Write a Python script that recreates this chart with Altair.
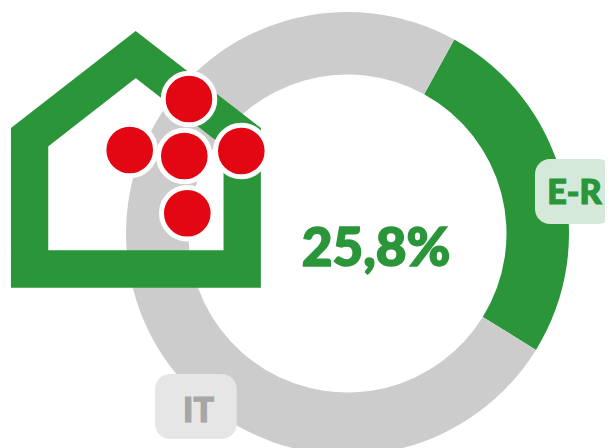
import altair as alt
import pandas as pd

# Donut
ring_labels = ["E-R", "IT"]
ring_values = [25.8, 74.2]
ring_colors = ["#2a9639", "#cccccc"]

# House outline (centre line of the thick stroke)
house_x = [136, 29.6, 29.6, 135.7, 242.2, 242.2, 136]
house_y = [269, 269, 137.2, 54.6, 137.2, 269, 269]

# Red dots
dot_x = [129.7, 189, 187.3, 241.3, 184.3]
dot_y = [150, 99, 213.3, 151, 156]

# Labels
box_names = ["E-R", "IT"]
box_x1 = [535, 155]
box_x2 = [613, 236.7]
box_y1 = [159, 374]
box_y2 = [224, 439]
box_fill = ["#d5e9da", "#e6e6e6"]
box_text = ["#2a9639", "#a6a6a6"]
box_tx = [574.5, 198.5]
box_ty = [203.5, 422]

center_label = ["25,8%"]
center_x = [376]
center_y = [265.5]

FONT = "Lato"
W, H = 597, 440
xs = alt.Scale(domain=[8, 8 + W], range=[0, W])
ys = alt.Scale(domain=[8, 8 + H], range=[0, H])
X = lambda f: alt.X(f, type="quantitative", scale=xs, axis=None)
Y = lambda f: alt.Y(f, type="quantitative", scale=ys, axis=None)

ring_df = pd.DataFrame({"label": ring_labels, "value": ring_values, "color": ring_colors, "k": [0, 1]})
ring = alt.Chart(ring_df).mark_arc(outerRadius=221.5, innerRadius=159, clip=True).encode(
    theta=alt.Theta("value:Q", stack=True, scale=alt.Scale(domain=[0, 100], range=[0.503, 6.786])),
    order=alt.Order("k:Q"),
    color=alt.Color("color:N", scale=None),
    x=alt.value(347.5 - 8),
    y=alt.value(233.5 - 8),
)

house_df = pd.DataFrame({"x": house_x, "y": house_y, "i": range(len(house_x))})
house = alt.Chart(house_df).mark_line(
    color="#2a9639", strokeWidth=37.3, strokeJoin="miter", strokeMiterLimit=20, strokeCap="butt"
).encode(x=X("x"), y=Y("y"), order=alt.Order("i:Q"))

dots_df = pd.DataFrame({"x": dot_x, "y": dot_y})
dots = alt.Chart(dots_df).mark_point(
    filled=True, shape="circle", size=2663, fill="#e30613", stroke="white",
    strokeWidth=5, opacity=1, fillOpacity=1, strokeOpacity=1
).encode(x=X("x"), y=Y("y"))

box_df = pd.DataFrame({
    "name": box_names, "x1": box_x1, "x2": box_x2, "y1": box_y1, "y2": box_y2,
    "fill": box_fill, "text": box_text, "tx": box_tx, "ty": box_ty,
})
boxes = alt.Chart(box_df).mark_rect(cornerRadius=15).encode(
    x=X("x1"), x2="x2:Q", y=Y("y1"), y2="y2:Q", color=alt.Color("fill:N", scale=None)
)
box_labels = alt.Chart(box_df).mark_text(
    font=FONT, fontSize=34, fontWeight=900, align="center", baseline="alphabetic", strokeWidth=1.2
).encode(
    x=X("tx"), y=Y("ty"), text="name:N",
    color=alt.Color("text:N", scale=None),
    stroke=alt.Stroke("text:N", scale=None),
)

center_df = pd.DataFrame({"label": center_label, "x": center_x, "y": center_y})
center = alt.Chart(center_df).mark_text(
    font=FONT, fontSize=53, fontWeight=900, align="center", baseline="alphabetic",
    color="#2a9639", stroke="#2a9639", strokeWidth=1.6
).encode(x=X("x"), y=Y("y"), text="label:N")

chart = alt.layer(ring, boxes, box_labels, center, house, dots).properties(
    width=W, height=H, padding=0, autosize=alt.AutoSizeParams(type="none"), background="white"
).configure_view(strokeWidth=0)

chart.save("out.html", embed_options={"renderer": "svg", "actions": False})
